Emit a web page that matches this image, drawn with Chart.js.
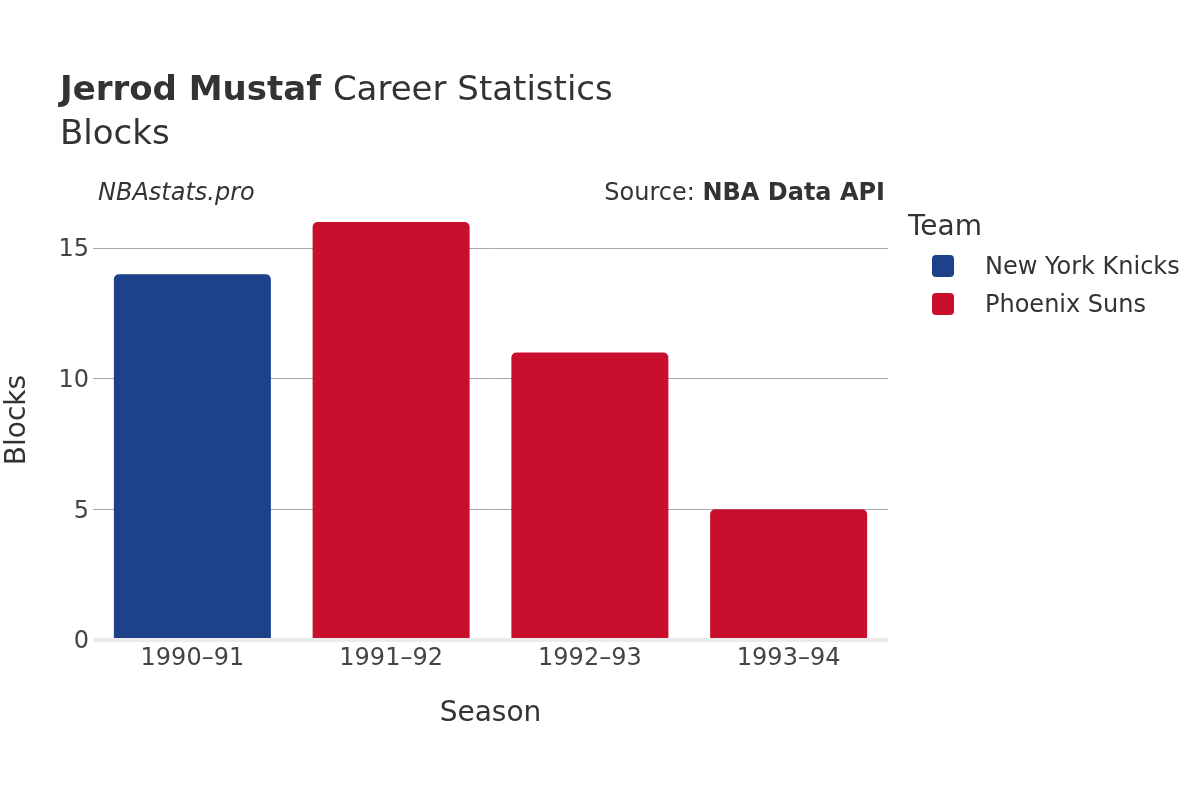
<!DOCTYPE html>
<html><head><meta charset="utf-8">
<script src="https://cdn.jsdelivr.net/npm/chart.js@4.4.1/dist/chart.umd.min.js"></script>
<style>html,body{margin:0;padding:0;background:#fff;}#wrap{width:1200px;height:800px;}</style>
</head><body><div id="wrap"><canvas id="c" width="1200" height="800"></canvas></div>
<script>
const seasons = ["1990\u201391", "1991\u201392", "1992\u201393", "1993\u201394"];
const teams = ["New York Knicks", "Phoenix Suns"];
const teamColors = ["#1d428a", "#c8102e"];
const knicksBlocks = [14, null, null, null];
const sunsBlocks = [null, 16, 11, 5];
const yTicks = [0, 5, 10, 15];
const FONT = "'DejaVu Sans', sans-serif";

const textPlugin = {
  id: 'texts',
  afterDraw(chart) {
    const ctx = chart.ctx, a = chart.chartArea;
    ctx.save();
    ctx.fillStyle = '#333';
    ctx.textBaseline = 'middle';
    ctx.textAlign = 'left';
    ctx.font = 'bold 34px ' + FONT;
    ctx.fillText('Jerrod Mustaf', 60, 91);
    const w = ctx.measureText('Jerrod Mustaf ').width;
    ctx.font = '34px ' + FONT;
    ctx.fillText('Career Statistics', 60 + w, 91);
    ctx.fillText('Blocks', 60, 135);
    ctx.font = 'italic 24px ' + FONT;
    ctx.fillText('NBAstats.pro', 98, 194);
    ctx.textAlign = 'right';
    ctx.font = 'bold 24px ' + FONT;
    const src = 'NBA Data API';
    ctx.fillText(src, 885, 194);
    const sw = ctx.measureText(src).width;
    ctx.font = '24px ' + FONT;
    ctx.fillText('Source: ', 885 - sw, 194);
    // axis titles
    ctx.textAlign = 'center';
    ctx.font = '28px ' + FONT;
    ctx.fillText('Season', (a.left + a.right) / 2, 714);
    ctx.save();
    ctx.translate(18, (a.top + a.bottom) / 2);
    ctx.rotate(-Math.PI / 2);
    ctx.fillText('Blocks', 0, 0);
    ctx.restore();
    // legend
    ctx.textAlign = 'left';
    ctx.font = '28px ' + FONT;
    ctx.fillText('Team', 908, 228);
    ctx.font = '24px ' + FONT;
    chart.data.datasets.forEach((ds, i) => {
      const y = 266 + i * 38;
      ctx.fillStyle = ds.backgroundColor;
      ctx.beginPath();
      ctx.roundRect(932, y - 11, 22, 22, 4);
      ctx.fill();
      ctx.fillStyle = '#333';
      ctx.fillText(ds.label, 985, y + 2);
    });
    ctx.restore();
  }
};

new Chart(document.getElementById('c'), {
  type: 'bar',
  data: {
    labels: seasons,
    datasets: [
      { label: teams[0], data: knicksBlocks, backgroundColor: teamColors[0] },
      { label: teams[1], data: sunsBlocks, backgroundColor: teamColors[1] }
    ]
  },
  options: {
    responsive: false,
    animation: false,
    devicePixelRatio: 1,
    layout: { padding: { top: 200, right: 312, left: 0, bottom: 0 } },
    datasets: { bar: { grouped: false, barPercentage: 0.79, categoryPercentage: 1, borderRadius: 5, borderSkipped: 'bottom' } },
    plugins: { legend: { display: false }, tooltip: { enabled: false } },
    scales: {
      x: {
        grid: { display: false, drawTicks: false },
        border: { display: false },
        ticks: { color: '#444', font: { family: FONT, size: 24 }, padding: 4, maxRotation: 0 },
        afterFit(s) { s.height = 160; }
      },
      y: {
        min: 0, max: 16.84,
        afterBuildTicks(s) { s.ticks = yTicks.map(v => ({ value: v })); },
        grid: {
          drawTicks: false,
          color: c => c.tick && c.tick.value === 0 ? '#ebebeb' : '#a8a8a8',
          lineWidth: c => c.tick && c.tick.value === 0 ? 4 : 1
        },
        border: { display: false },
        ticks: { color: '#444', font: { family: FONT, size: 24 }, padding: 4, labelOffset: 2 },
        afterFit(s) { s.width = 93; }
      }
    }
  },
  plugins: [textPlugin]
});
</script></body></html>
